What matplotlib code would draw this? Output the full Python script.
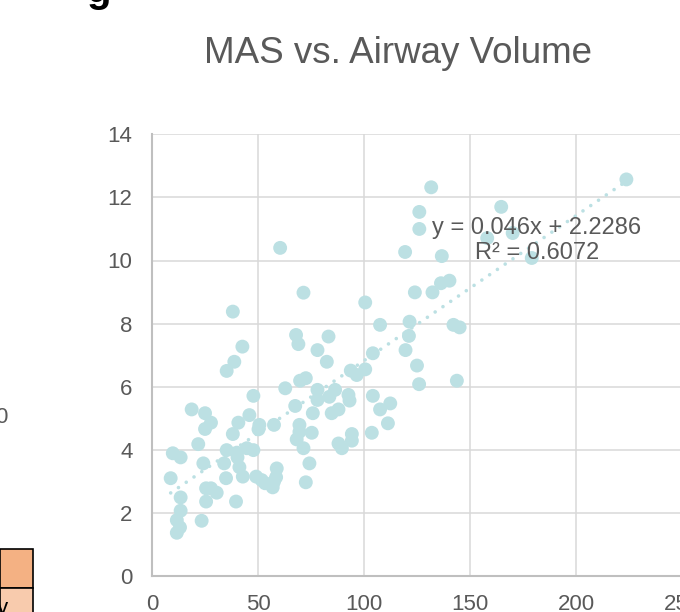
import matplotlib
matplotlib.use("Agg")
import matplotlib.pyplot as plt
from matplotlib.patches import Rectangle

plt.rcParams['font.family'] = ['Liberation Sans', 'DejaVu Sans']

# Data: airway volume (x) vs MAS (y)
airway_volume = [
    131.6, 164.6, 126.0, 126.0, 170.0, 158.0, 179.0, 119.3, 136.6, 60.4,
    223.6, 136.2, 140.2, 132.2, 123.9, 121.4, 121.1, 119.5, 124.9, 125.9,
    143.7, 142.1, 145.0, 71.4, 100.5, 107.5, 67.9, 69.0, 83.2, 78.0,
    82.4, 104.1, 93.7, 96.5, 100.5, 69.8, 72.5, 62.8, 78.0, 78.0,
    83.6, 86.3, 92.6, 93.1, 104.1, 67.5, 75.8, 84.7, 87.9, 107.5,
    112.3, 111.2, 69.5, 69.5, 75.3, 68.2, 71.4, 87.9, 89.5, 94.2,
    94.2, 103.6, 74.2, 72.5, 18.7, 25.0, 27.8, 25.0, 40.7, 45.9,
    47.8, 50.6, 50.2, 57.5, 38.1, 21.8, 9.8, 13.5, 35.2, 40.0,
    44.7, 47.8, 24.2, 34.0, 40.3, 41.2, 42.8, 34.9, 8.8, 25.5,
    27.8, 30.5, 25.5, 39.6, 13.5, 13.5, 11.7, 13.2, 11.7, 23.4,
    49.1, 51.7, 53.3, 56.9, 58.8, 58.5, 57.5, 38.1, 42.6, 38.8,
    35.2,
]
mas = [
    12.32, 11.70, 11.54, 11.00, 10.87, 10.71, 10.08, 10.27, 10.14, 10.40,
    12.57, 9.28, 9.36, 8.99, 8.99, 8.06, 7.61, 7.16, 6.67, 6.08,
    6.19, 7.96, 7.88, 8.98, 8.67, 7.96, 7.64, 7.35, 7.59, 7.16,
    6.79, 7.06, 6.51, 6.37, 6.55, 6.19, 6.27, 5.95, 5.90, 5.58,
    5.68, 5.90, 5.74, 5.56, 5.71, 5.39, 5.16, 5.16, 5.28, 5.28,
    5.47, 4.84, 4.79, 4.57, 4.54, 4.33, 4.05, 4.20, 4.05, 4.50,
    4.29, 4.54, 3.57, 2.97, 5.28, 5.16, 4.86, 4.66, 4.86, 5.10,
    5.71, 4.79, 4.65, 4.79, 4.50, 4.18, 3.89, 3.76, 3.99, 3.91,
    4.05, 3.99, 3.57, 3.57, 3.76, 3.45, 3.15, 3.10, 3.10, 2.78,
    2.78, 2.64, 2.36, 2.36, 2.49, 2.07, 1.77, 1.54, 1.37, 1.75,
    3.15, 3.04, 2.94, 2.81, 3.41, 3.13, 2.99, 8.38, 7.27, 6.79,
    6.50,
]

# Linear trendline reported on the chart
slope = 0.046
intercept = 2.2286
r_squared = 0.6072

x_ticks = [0, 50, 100, 150, 200, 250]
y_ticks = [0, 2, 4, 6, 8, 10, 12, 14]

W, H = 680, 612
point_color = "#BCE0E3"
text_gray = "#595959"


def fx(px):
    return px / W


def fy(py):
    return 1 - py / H


fig = plt.figure(figsize=(W / 100, H / 100), dpi=100)
ax = fig.add_axes([fx(152), fy(576), (682.4 - 152) / W, (576 - 134.3) / H])

ax.scatter(airway_volume, mas, s=100, color=point_color, edgecolors="none", zorder=3)

# Trendline across the data range
x0, x1 = min(airway_volume), max(airway_volume)
ax.plot([x0, x1], [slope * x0 + intercept, slope * x1 + intercept],
        color=point_color, linewidth=2.6, linestyle=(0, (0.01, 2.6)),
        dash_capstyle="round", zorder=4)

ax.set_xlim(0, 250)
ax.set_ylim(0, 14)
ax.set_xticks(x_ticks)
ax.set_yticks(y_ticks)
ax.grid(True, color="#D9D9D9", linewidth=1.1, zorder=0)
ax.set_axisbelow(True)
for side in ["top", "right"]:
    ax.spines[side].set_visible(False)
for side in ["left", "bottom"]:
    ax.spines[side].set_color("#BFBFBF")
    ax.spines[side].set_linewidth(1.5)
ax.tick_params(axis="both", length=0, labelsize=16, labelcolor=text_gray)
ax.tick_params(axis="y", pad=14)
ax.tick_params(axis="x", pad=13)

# Title
fig.text(fx(397.5), fy(63), "MAS vs. Airway Volume", ha="center", va="baseline",
         fontsize=26.5, color=text_gray)

# Trendline label
fig.text(fx(536.7), fy(234), f"y = {slope}x + {intercept}", ha="center", va="baseline",
         fontsize=17, color=text_gray, zorder=5)
fig.text(fx(537), fy(259), f"R² = {r_squared}", ha="center", va="baseline",
         fontsize=17, color=text_gray, zorder=5)

# Fragments of the surrounding slide that fall inside the crop
fig.text(fx(86), fy(1.5), "g", ha="left", va="baseline", fontsize=29,
         fontweight="bold", color="black")
fig.text(fx(7), fy(423), "0", ha="right", va="baseline", fontsize=16, color=text_gray)
fig.patches.append(Rectangle((0, fy(587.5)), fx(32.5), (587.5 - 549.3) / H,
                             transform=fig.transFigure, facecolor="#F4B183",
                             edgecolor="black", linewidth=1.2))
fig.patches.append(Rectangle((0, fy(615)), fx(32.5), (615 - 587.5) / H,
                             transform=fig.transFigure, facecolor="#F8CBAD",
                             edgecolor="black", linewidth=1.2))
fig.text(fx(8), fy(614), "y", ha="right", va="baseline", fontsize=16, color="black")

fig.savefig("out.png", dpi=100)
